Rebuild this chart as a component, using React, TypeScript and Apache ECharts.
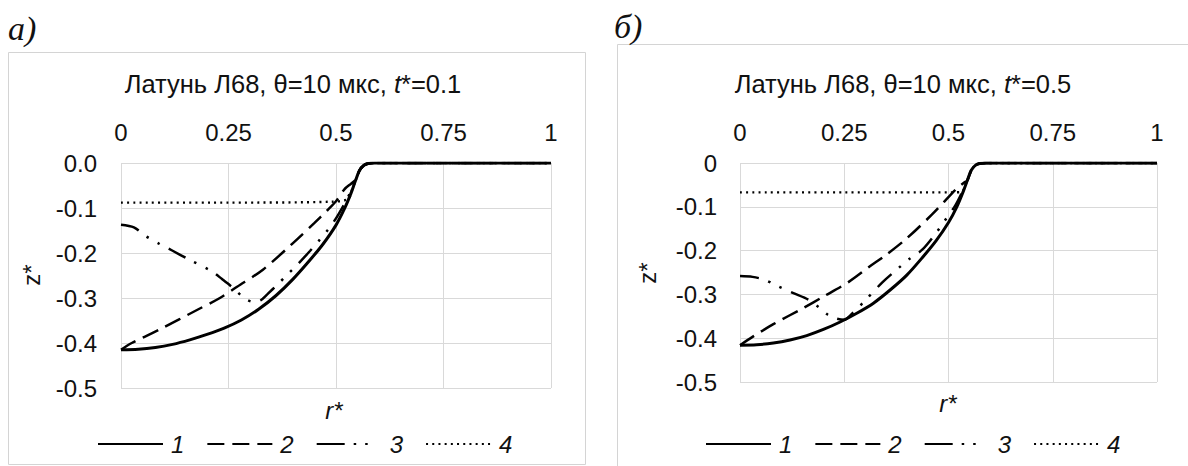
import React, { useEffect, useRef } from "react";
import * as echarts from "echarts";

// ---------- data ----------
const X_TICK_LABELS = ["0", "0.25", "0.5", "0.75", "1"];
const Y_TICK_LABELS_A = ["0.0", "-0.1", "-0.2", "-0.3", "-0.4", "-0.5"];
const Y_TICK_LABELS_B = ["0", "-0.1", "-0.2", "-0.3", "-0.4", "-0.5"];
const SERIES_NAMES = ["1", "2", "3", "4"];

// panel a (t* = 0.1)
const rA1 = [0, 0.04, 0.08, 0.12, 0.16, 0.2, 0.24, 0.28, 0.32, 0.36, 0.4, 0.44, 0.47, 0.5, 0.52, 0.535, 0.545, 0.555, 0.565, 0.575, 0.59, 1];
const zA1 = [-0.415, -0.414, -0.41, -0.403, -0.393, -0.381, -0.367, -0.349, -0.325, -0.295, -0.258, -0.215, -0.18, -0.138, -0.101, -0.067, -0.04, -0.016, -0.005, -0.001, 0, 0];
const rA2 = [0, 0.025, 0.09, 0.18, 0.23, 0.27, 0.33, 0.4, 0.45, 0.48, 0.5, 0.52, 0.535, 0.545, 0.555, 0.565, 0.575, 0.59, 1];
const zA2 = [-0.415, -0.4, -0.37, -0.325, -0.3, -0.275, -0.237, -0.178, -0.133, -0.105, -0.085, -0.058, -0.046, -0.038, -0.016, -0.005, -0.001, 0, 0];
const rA3 = [0, 0.03, 0.057, 0.088, 0.12, 0.155, 0.21, 0.235, 0.26, 0.28, 0.295, 0.31, 0.325, 0.34, 0.365, 0.39, 0.41, 0.44, 0.46, 0.48, 0.5, 0.52, 0.535, 0.545, 0.555, 0.565, 0.575, 0.59, 1];
const zA3 = [-0.137, -0.143, -0.162, -0.179, -0.195, -0.213, -0.24, -0.258, -0.277, -0.295, -0.305, -0.309, -0.305, -0.292, -0.269, -0.245, -0.226, -0.195, -0.173, -0.15, -0.123, -0.09, -0.062, -0.04, -0.016, -0.005, -0.001, 0, 0];
const rA4 = [0, 0.25, 0.49, 0.528, 0.538, 0.545, 0.555, 0.565, 0.575, 0.59, 1];
const zA4 = [-0.088, -0.088, -0.086, -0.08, -0.058, -0.04, -0.016, -0.005, -0.001, 0, 0];

// panel b (t* = 0.5)
const rB1 = [0, 0.04, 0.08, 0.12, 0.16, 0.2, 0.24, 0.28, 0.32, 0.36, 0.4, 0.44, 0.47, 0.5, 0.52, 0.535, 0.545, 0.555, 0.565, 0.575, 0.59, 1];
const zB1 = [-0.416, -0.415, -0.411, -0.404, -0.394, -0.38, -0.363, -0.343, -0.32, -0.29, -0.256, -0.213, -0.178, -0.136, -0.1, -0.066, -0.04, -0.016, -0.005, -0.001, 0, 0];
const rB2 = [0, 0.03, 0.08, 0.15, 0.2, 0.26, 0.31, 0.35, 0.4, 0.46, 0.49, 0.52, 0.537, 0.545, 0.555, 0.565, 0.575, 0.59, 1];
const zB2 = [-0.416, -0.397, -0.368, -0.332, -0.305, -0.272, -0.237, -0.21, -0.172, -0.118, -0.088, -0.058, -0.045, -0.04, -0.016, -0.005, -0.001, 0, 0];
const rB3 = [0, 0.03, 0.06, 0.09, 0.128, 0.164, 0.19, 0.21, 0.23, 0.25, 0.27, 0.296, 0.342, 0.38, 0.405, 0.437, 0.47, 0.49, 0.515, 0.53, 0.545, 0.555, 0.565, 0.575, 0.59, 1];
const zB3 = [-0.258, -0.26, -0.267, -0.281, -0.297, -0.312, -0.33, -0.346, -0.355, -0.358, -0.343, -0.318, -0.272, -0.24, -0.22, -0.198, -0.16, -0.133, -0.099, -0.072, -0.04, -0.016, -0.005, -0.001, 0, 0];
const rB4 = [0, 0.25, 0.51, 0.532, 0.54, 0.545, 0.555, 0.565, 0.575, 0.59, 1];
const zB4 = [-0.067, -0.067, -0.067, -0.066, -0.052, -0.04, -0.016, -0.005, -0.001, 0, 0];

// ---------- styling ----------
const FONT = "'Liberation Sans', Arial, sans-serif";
const SERIF = "'Liberation Serif', 'Times New Roman', serif";
const GRID_COLOR = "#d9d9d9";
const TEXT_COLOR = "#111111";

const LINE_STYLES: any[] = [
  { color: "#000", width: 3, type: "solid", cap: "butt" },
  { color: "#000", width: 2.5, type: [17, 8], cap: "butt" },
  { color: "#000", width: 2.5, type: [19, 10, 2.5, 10, 2.5, 10], cap: "butt" },
  { color: "#000", width: 2.4, type: [2, 4.2], cap: "butt" },
];

const pairs = (r: number[], z: number[]) => r.map((v, i) => [v, z[i]]);

function makeSeries(idx: number, lists: [number[], number[]][]) {
  const order = [1, 2, 3, 0]; // solid drawn last (on top)
  return order.map((k) => ({
    name: SERIES_NAMES[k],
    type: "line",
    xAxisIndex: idx,
    yAxisIndex: idx,
    data: pairs(lists[k][0], lists[k][1]),
    symbol: "none",
    smooth: 0.3,
    lineStyle: LINE_STYLES[k],
    z: k === 0 ? 5 : 3,
    silent: true,
  }));
}

function xAxisCfg(gridIndex: number) {
  return {
    type: "value",
    gridIndex,
    position: "top",
    min: 0,
    max: 1,
    interval: 0.25,
    axisLine: { show: false },
    axisTick: { show: false },
    splitLine: { show: true, lineStyle: { color: GRID_COLOR, width: 1 } },
    axisLabel: {
      fontSize: 24,
      fontFamily: FONT,
      color: TEXT_COLOR,
      margin: 19,
      formatter: (v: number) => X_TICK_LABELS[Math.round(v / 0.25)],
    },
  };
}

function yAxisCfg(gridIndex: number, labels: string[], margin: number) {
  return {
    type: "value",
    gridIndex,
    min: -0.5,
    max: 0,
    interval: 0.1,
    axisLine: { show: false },
    axisTick: { show: false },
    splitLine: { show: true, lineStyle: { color: GRID_COLOR, width: 1 } },
    axisLabel: {
      fontSize: 24,
      fontFamily: FONT,
      color: TEXT_COLOR,
      margin,
      formatter: (v: number) => labels[Math.round(-v / 0.1)],
    },
  };
}

function legendCfg(left: number) {
  return {
    data: [
      { name: "1" },
      { name: "2" },
      { name: "3", lineStyle: { type: [28, 9, 2.5, 9, 2.5, 20] } },
      { name: "4" },
    ],
    left,
    top: 427,
    orient: "horizontal",
    itemWidth: 65,
    itemHeight: 14,
    itemGap: 22,
    selectedMode: false,
    itemStyle: { color: "rgba(0,0,0,0)", borderWidth: 0, opacity: 0 },
    textStyle: {
      fontSize: 24,
      fontFamily: FONT,
      fontStyle: "italic",
      color: TEXT_COLOR,
      padding: [0, 0, 0, 3],
    },
  };
}

function titleText(x: number, y: number, tval: string) {
  return {
    type: "text",
    x,
    y,
    silent: true,
    style: {
      text: "Латунь Л68, θ=10 мкс, {i|t}*=" + tval,
      fontSize: 25.5,
      fontFamily: FONT,
      fill: TEXT_COLOR,
      align: "center",
      verticalAlign: "middle",
      textAlign: "center",
      textVerticalAlign: "middle",
      rich: {
        i: { fontStyle: "italic", fontSize: 25.5, fontFamily: FONT, fill: TEXT_COLOR },
      },
    },
  };
}

function plainText(x: number, y: number, text: string, opts: any = {}) {
  return {
    type: "text",
    x,
    y,
    rotation: opts.rotation || 0,
    silent: true,
    style: {
      text,
      fontSize: opts.fontSize || 24,
      fontFamily: opts.fontFamily || FONT,
      fontStyle: opts.fontStyle || "normal",
      fill: TEXT_COLOR,
      align: opts.align || "center",
      verticalAlign: "middle",
      textAlign: opts.align || "center",
      textVerticalAlign: "middle",
    },
  };
}

export default function App() {
  const ref = useRef<HTMLDivElement>(null);

  useEffect(() => {
    if (!ref.current) return;
    const chart = echarts.init(ref.current, undefined, { renderer: "svg" });

    const option: any = {
      animation: false,
      backgroundColor: "#ffffff",
      grid: [
        { left: 121, top: 163, width: 430, height: 225, containLabel: false },
        { left: 740, top: 163, width: 417, height: 219, containLabel: false },
      ],
      xAxis: [xAxisCfg(0), xAxisCfg(1)],
      yAxis: [yAxisCfg(0, Y_TICK_LABELS_A, 24), yAxisCfg(1, Y_TICK_LABELS_B, 23)],
      legend: [legendCfg(92), legendCfg(700)],
      series: [
        ...makeSeries(0, [
          [rA1, zA1],
          [rA2, zA2],
          [rA3, zA3],
          [rA4, zA4],
        ]),
        ...makeSeries(1, [
          [rB1, zB1],
          [rB2, zB2],
          [rB3, zB3],
          [rB4, zB4],
        ]),
      ],
      graphic: [
        {
          type: "rect",
          silent: true,
          z: -10,
          shape: { x: 8.5, y: 52.5, width: 577, height: 412 },
          style: { fill: "none", stroke: "#d4d4d4", lineWidth: 1 },
        },
        {
          type: "rect",
          silent: true,
          z: -10,
          shape: { x: 617.5, y: 44.5, width: 620, height: 480 },
          style: { fill: "none", stroke: "#d4d4d4", lineWidth: 1 },
        },
        plainText(8, 28, "а)", { fontFamily: SERIF, fontStyle: "italic", fontSize: 34, align: "left" }),
        plainText(614, 26, "б)", { fontFamily: SERIF, fontStyle: "italic", fontSize: 34, align: "left" }),
        titleText(293, 84, "0.1"),
        titleText(903, 84, "0.5"),
        plainText(31, 275, "z*", { rotation: Math.PI / 2 }),
        plainText(647, 273, "z*", { rotation: Math.PI / 2 }),
        plainText(334, 410, "r*", { fontStyle: "italic" }),
        plainText(948, 403, "r*", { fontStyle: "italic" }),
      ],
    };

    chart.setOption(option);
    return () => chart.dispose();
  }, []);

  return (
    <div
      ref={ref}
      style={{ position: "absolute", left: 0, top: 0, width: 1188, height: 466 }}
    />
  );
}
